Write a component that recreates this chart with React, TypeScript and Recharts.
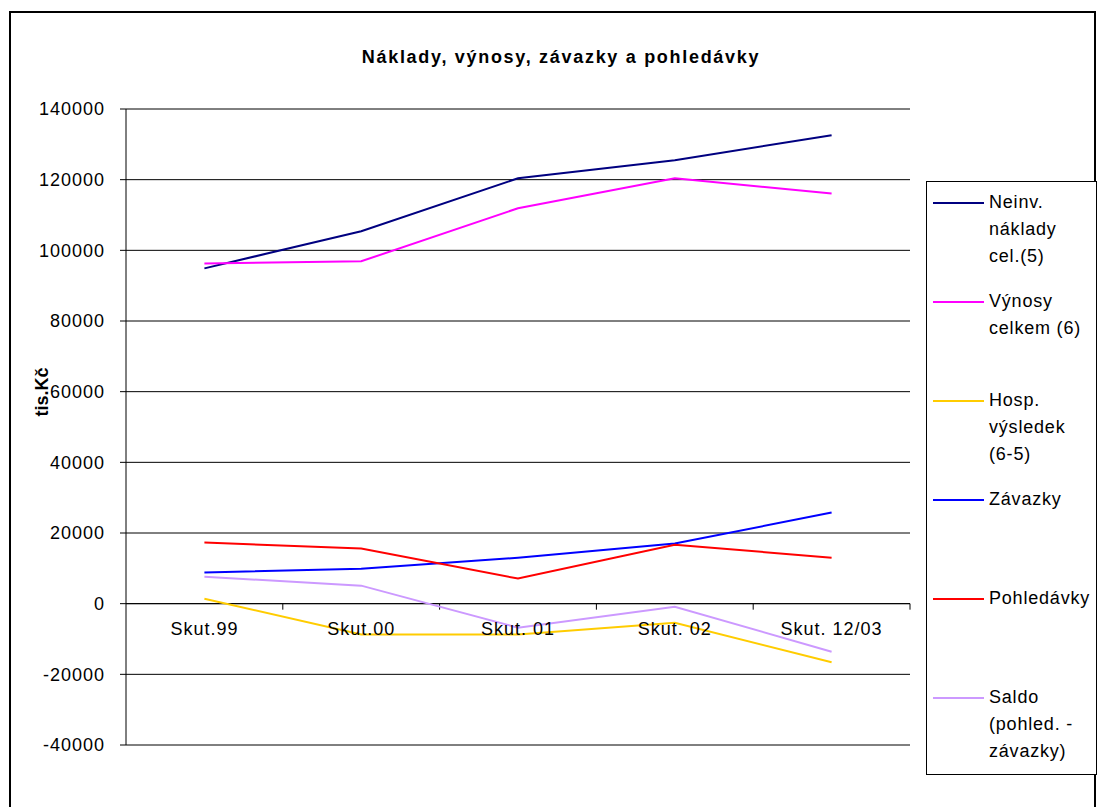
import React from "react";
import {
  LineChart,
  Line,
  XAxis,
  YAxis,
  CartesianGrid,
  ReferenceLine,
  ReferenceDot,
} from "recharts";

const categories = ["Skut.99", "Skut.00", "Skut. 01", "Skut. 02", "Skut. 12/03"];
const naklady = [94900, 105400, 120400, 125500, 132600];
const vynosy = [96300, 96900, 111900, 120400, 116100];
const hospVysledek = [1400, -8700, -8700, -5400, -16600];
const zavazky = [8800, 9900, 13000, 17000, 25800];
const pohledavky = [17300, 15600, 7100, 16700, 13000];
const saldo = [7600, 5100, -6800, -850, -13600];
const yTicks = [-40000, -20000, 0, 20000, 40000, 60000, 80000, 100000, 120000, 140000];

const series = [
  { key: "naklady", name: "Neinv.\nnáklady\ncel.(5)", color: "#000080", values: naklady },
  { key: "vynosy", name: "Výnosy\ncelkem (6)", color: "#FF00FF", values: vynosy },
  { key: "hosp", name: "Hosp.\nvýsledek\n(6-5)", color: "#FFCC00", values: hospVysledek },
  { key: "zavazky", name: "Závazky", color: "#0000FF", values: zavazky },
  { key: "pohledavky", name: "Pohledávky", color: "#FF0000", values: pohledavky },
  { key: "saldo", name: "Saldo\n(pohled. -\nzávazky)", color: "#CC99FF", values: saldo },
];

const data = categories.map((cat, i) => {
  const row: Record<string, string | number> = { cat };
  series.forEach((s) => {
    row[s.key] = s.values[i];
  });
  return row;
});

const FONT = '"Liberation Sans", Arial, sans-serif';

// zero line with the category separator ticks hanging below it
const ZeroAxis = (props: any) => {
  const { x1, y1, x2, y2 } = props;
  const w = (x2 - x1) / categories.length;
  return (
    <g>
      <line x1={x1} y1={y1} x2={x2} y2={y2} stroke="#000" strokeWidth={1} />
      {categories.map((_, i) => (
        <line
          key={i}
          x1={x1 + (i + 1) * w}
          x2={x1 + (i + 1) * w}
          y1={y1}
          y2={y1 + 6}
          stroke="#000"
          strokeWidth={1}
        />
      ))}
    </g>
  );
};

export default function App() {
  return (
    <div
      style={{
        position: "absolute",
        left: 9,
        top: 11,
        width: 1087,
        height: 800,
        boxSizing: "border-box",
        border: "2px solid #000",
        background: "#fff",
        fontFamily: FONT,
      }}
    >
      <div
        style={{
          position: "absolute",
          left: 0,
          top: 33,
          width: 1100,
          textAlign: "center",
          fontWeight: "bold",
          fontSize: 18,
          letterSpacing: 1.7,
          lineHeight: "22px",
        }}
      >
        Náklady, výnosy, závazky a pohledávky
      </div>
      <div
        style={{
          position: "absolute",
          left: 31,
          top: 379,
          transform: "translate(-50%, -50%) rotate(-90deg)",
          fontWeight: "bold",
          fontSize: 18,
          whiteSpace: "nowrap",
        }}
      >
        tis.Kč
      </div>

      <LineChart
        width={1083}
        height={796}
        data={data}
        margin={{ top: 96, right: 184, bottom: 64, left: 0 }}
      >
        <CartesianGrid vertical={false} stroke="#000" />
        <XAxis dataKey="cat" scale="band" hide />
        <XAxis
          xAxisId="top"
          dataKey="cat"
          scale="band"
          orientation="top"
          height={0}
          tick={false}
          tickLine={false}
          axisLine={{ stroke: "#808080", strokeWidth: 2 }}
        />
        <YAxis
          domain={[-40000, 140000]}
          ticks={yTicks}
          interval={0}
          width={115}
          tickSize={6}
          tickMargin={15}
          tick={{ fontSize: 18, fill: "#000", letterSpacing: 1 }}
          axisLine={{ stroke: "#000" }}
          tickLine={{ stroke: "#000" }}
        />
        <YAxis
          yAxisId="right"
          orientation="right"
          domain={[-40000, 140000]}
          width={0}
          tick={false}
          tickLine={false}
          axisLine={{ stroke: "#808080", strokeWidth: 2 }}
        />
        <ReferenceLine y={0} shape={ZeroAxis} />
        {categories.map((cat) => (
          <ReferenceDot
            key={cat}
            x={cat}
            y={0}
            r={0}
            fill="none"
            stroke="none"
            label={{
              value: cat,
              position: "bottom",
              offset: 19,
              fontSize: 18,
              fill: "#000",
              letterSpacing: 1,
            }}
          />
        ))}
        {series.map((s) => (
          <Line
            key={s.key}
            type="linear"
            dataKey={s.key}
            name={s.name}
            stroke={s.color}
            strokeWidth={2}
            dot={false}
            activeDot={false}
            isAnimationActive={false}
          />
        ))}
      </LineChart>

      <div
        style={{
          position: "absolute",
          left: 915,
          top: 168,
          width: 171,
          height: 594,
          boxSizing: "border-box",
          border: "1px solid #000",
          background: "#fff",
        }}
      >
        {series.map((s) => (
          <div key={s.key} style={{ position: "relative", height: 99 }}>
            <div
              style={{
                position: "absolute",
                left: 6,
                top: 20,
                width: 51,
                height: 2,
                background: s.color,
              }}
            />
            <div
              style={{
                position: "absolute",
                left: 62,
                top: 7,
                fontSize: 18,
                lineHeight: "27px",
                letterSpacing: 0.8,
                whiteSpace: "pre-line",
                color: "#000",
              }}
            >
              {s.name}
            </div>
          </div>
        ))}
      </div>
    </div>
  );
}
